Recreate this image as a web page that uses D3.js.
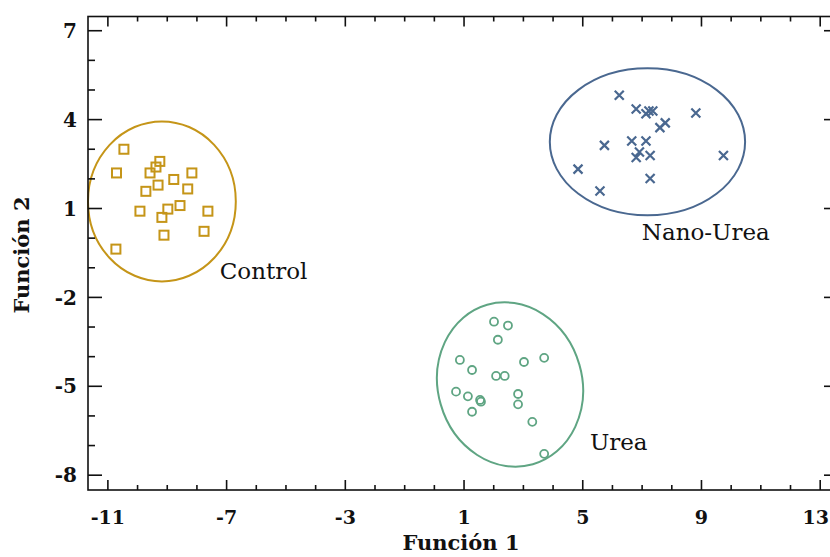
<!DOCTYPE html>
<html>
<head>
<meta charset="utf-8">
<script src="https://cdn.jsdelivr.net/npm/d3@7"></script>
<style>
  html, body { margin: 0; padding: 0; background: #fff; }
  svg { display: block; font-family: "DejaVu Serif", "Liberation Serif", serif; }
</style>
</head>
<body>
<svg id="chart" width="830" height="557"></svg>
<script>
// Discriminant scores (Función 1, Función 2) for each treatment
const controlX = [-10.46, -10.71, -9.25, -9.38, -9.58, -8.17, -8.78, -9.31, -8.31, -9.72, -8.57, -8.98, -9.92, -7.63, -9.18, -7.76, -9.11, -10.73];
const controlY = [3.00, 2.20, 2.59, 2.40, 2.20, 2.20, 1.98, 1.79, 1.66, 1.58, 1.10, 0.98, 0.91, 0.91, 0.70, 0.23, 0.10, -0.37];

const nanoX = [6.23, 6.80, 7.13, 7.23, 7.36, 8.81, 7.78, 7.60, 5.73, 6.65, 7.13, 6.91, 6.80, 7.27, 9.74, 4.84, 7.27, 5.58];
const nanoY = [4.82, 4.36, 4.20, 4.29, 4.29, 4.22, 3.89, 3.73, 3.13, 3.28, 3.28, 2.91, 2.72, 2.79, 2.79, 2.33, 2.01, 1.59];

const ureaX = [2.01, 2.48, 2.14, 0.86, 3.70, 3.02, 1.27, 2.08, 2.37, 0.73, 1.13, 1.54, 1.57, 2.82, 2.82, 1.27, 3.30, 3.70];
const ureaY = [-2.82, -2.95, -3.43, -4.11, -4.04, -4.18, -4.45, -4.65, -4.65, -5.18, -5.34, -5.46, -5.52, -5.26, -5.61, -5.86, -6.20, -7.28];

// Group ellipses: centre, semi-axes (data units) and tilt in degrees
const groupNames = ["Control", "Nano-Urea", "Urea"];
const ellipseCx = [-9.18, 7.18, 2.55];
const ellipseCy = [1.24, 3.25, -4.94];
const ellipseRx = [2.49, 3.29, 2.43];
const ellipseRy = [2.70, 2.48, 2.80];
const ellipseTilt = [0, 0, -16];

// Group label anchors (data units)
const labelX = [-7.23, 6.99, 5.24];
const labelY = [-1.38, -0.06, -7.15];

const xTicks = [-11, -7, -3, 1, 5, 9, 13];
const yTicks = [7, 4, 1, -2, -5, -8];

const colors = ["#c59518", "#4a6890", "#5fa583"];

const W = 830;
const svg = d3.select("#chart");
const plotLeft = 88, plotRight = 838, plotTop = 16.5, plotBottom = 490;

const x = d3.scaleLinear().domain([-11.67, 13.6]).range([plotLeft, plotRight]);
const y = d3.scaleLinear().domain([-8.5, 7.48]).range([plotBottom, plotTop]);

const g = svg.append("g");

// Ellipses around each group
groupNames.forEach((name, i) => {
  const cx = x(ellipseCx[i]), cy = y(ellipseCy[i]);
  g.append("ellipse")
    .attr("cx", cx).attr("cy", cy)
    .attr("rx", x(ellipseCx[i] + ellipseRx[i]) - cx)
    .attr("ry", cy - y(ellipseCy[i] + ellipseRy[i]))
    .attr("transform", `rotate(${ellipseTilt[i]},${cx},${cy})`)
    .attr("fill", "none")
    .attr("stroke", colors[i])
    .attr("stroke-width", 2);
});

// Control: open squares
const sq = 9;
g.selectAll("rect.control").data(d3.range(controlX.length)).join("rect")
  .attr("class", "control")
  .attr("x", i => x(controlX[i]) - sq / 2)
  .attr("y", i => y(controlY[i]) - sq / 2)
  .attr("width", sq).attr("height", sq)
  .attr("fill", "none").attr("stroke", colors[0]).attr("stroke-width", 2);

// Nano-Urea: crosses
const cr = 4.5;
g.selectAll("path.nano").data(d3.range(nanoX.length)).join("path")
  .attr("class", "nano")
  .attr("d", i => {
    const px = x(nanoX[i]), py = y(nanoY[i]);
    return `M${px - cr},${py - cr}L${px + cr},${py + cr}M${px - cr},${py + cr}L${px + cr},${py - cr}`;
  })
  .attr("fill", "none").attr("stroke", colors[1]).attr("stroke-width", 2.2);

// Urea: open circles
g.selectAll("circle.urea").data(d3.range(ureaX.length)).join("circle")
  .attr("class", "urea")
  .attr("cx", i => x(ureaX[i]))
  .attr("cy", i => y(ureaY[i]))
  .attr("r", 4)
  .attr("fill", "none").attr("stroke", colors[2]).attr("stroke-width", 1.8);

// Group labels
groupNames.forEach((name, i) => {
  svg.append("text")
    .attr("x", x(labelX[i])).attr("y", y(labelY[i]))
    .attr("font-size", 23).attr("fill", "#111")
    .text(name);
});

// Frame with inward ticks on all four sides
const xMinor = d3.range(-11, 14, 1);
const yMinor = d3.range(-8, 8, 1);
const frame = svg.append("g").attr("stroke", "#111").attr("stroke-width", 1.6);

frame.append("rect")
  .attr("x", plotLeft).attr("y", plotTop)
  .attr("width", plotRight - plotLeft).attr("height", plotBottom - plotTop)
  .attr("fill", "none");

xMinor.forEach(v => {
  const len = xTicks.includes(v) ? 10 : 5;
  frame.append("line").attr("x1", x(v)).attr("x2", x(v)).attr("y1", plotBottom).attr("y2", plotBottom - len);
  frame.append("line").attr("x1", x(v)).attr("x2", x(v)).attr("y1", plotTop).attr("y2", plotTop + len);
});
yMinor.forEach(v => {
  const len = yTicks.includes(v) ? 14 : 7;
  frame.append("line").attr("y1", y(v)).attr("y2", y(v)).attr("x1", plotLeft).attr("x2", plotLeft + len);
  frame.append("line").attr("y1", y(v)).attr("y2", y(v)).attr("x1", plotRight).attr("x2", plotRight - len);
});

// Tick labels (kept inside the page width at the right edge)
svg.append("g").selectAll("text").data(xTicks).join("text")
  .attr("x", d => x(d)).attr("y", 524)
  .attr("text-anchor", "middle")
  .attr("font-size", 19).attr("font-weight", "bold").attr("fill", "#111")
  .text(d => d)
  .each(function (d) {
    const half = this.getComputedTextLength() / 2;
    if (x(d) + half > W - 1) d3.select(this).attr("x", W - 1 - half);
  });

svg.append("g").selectAll("text").data(yTicks).join("text")
  .attr("x", 77).attr("y", d => y(d))
  .attr("dy", "0.36em")
  .attr("text-anchor", "end")
  .attr("font-size", 20).attr("font-weight", "bold").attr("fill", "#111")
  .text(d => d);

// Axis titles
svg.append("text")
  .attr("x", 461).attr("y", 550)
  .attr("text-anchor", "middle")
  .attr("font-size", 21).attr("font-weight", "bold").attr("fill", "#111")
  .text("Función 1");

svg.append("text")
  .attr("transform", "translate(29,255) rotate(-90)")
  .attr("text-anchor", "middle")
  .attr("font-size", 21).attr("font-weight", "bold").attr("fill", "#111")
  .text("Función 2");
</script>
</body>
</html>
